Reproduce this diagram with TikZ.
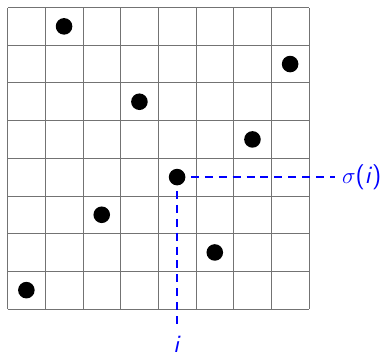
\documentclass[tikz,border=0pt]{standalone}
\usepackage{tikz}
\usetikzlibrary{arrows.meta}

\begin{document}
\begin{tikzpicture}[x=1cm,y=1cm,font=\sffamily\fontsize{19}{23}\selectfont]
\definecolor{markblue}{RGB}{0,0,255}
\tikzset{
  pt/.style={circle,fill=black,inner sep=0pt,minimum size=.44cm},
  dashline/.style={draw=markblue,line width=1pt,dash pattern=on 6pt off 4.5pt},
  lab/.style={text=markblue,inner sep=2pt}
}
\useasboundingbox (-.2,-1.27) rectangle (10.15,8.2);
\draw[black!55,line width=.6pt] (0,0) grid (8,8);
% permutation points, column -> row
\foreach \c/\r [count=\k] in {1/1,2/8,3/3,4/6,5/4,6/2,7/5,8/7}
  \node[pt] (p\k) at (\c-.5,\r-.5) {};
\node[lab,anchor=west] (sig) at (8.8,3.5) {$\sigma$(\textit{i})};
\node[lab,anchor=north] (idx) at (4.5,-.64) {\textit{i}};
\draw[dashline,shorten <=4pt,shorten >=3pt] (p5) -- (sig.west);
\draw[dashline,shorten <=4pt,shorten >=3pt] (p5) -- (idx.north);
\end{tikzpicture}
\end{document}
